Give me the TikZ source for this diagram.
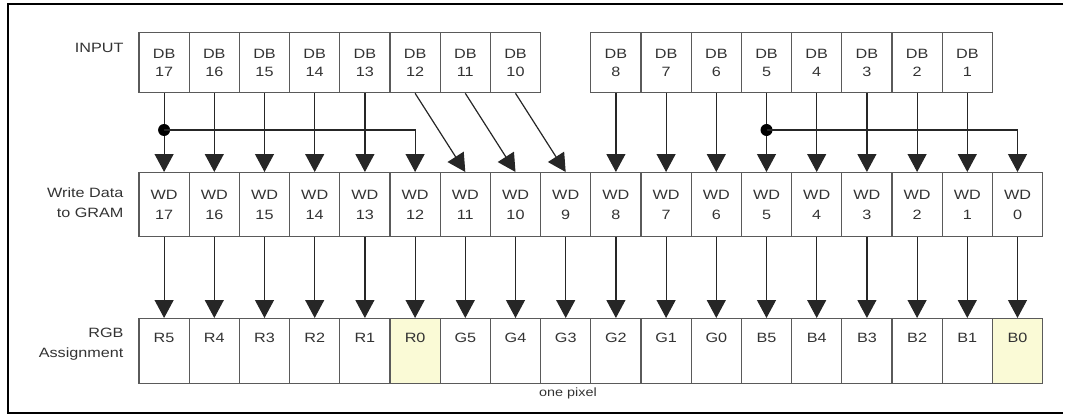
\documentclass[tikz,border=0pt]{standalone}
\usepackage{fontspec}
\setmainfont{Liberation Sans}[FakeStretch=1.2]
\usetikzlibrary{arrows.meta}
\definecolor{boxgray}{HTML}{5A5A5A}
\definecolor{txtgray}{HTML}{333333}
\definecolor{pxfill}{HTML}{FAFAD6}
\tikzset{
  cell/.style={draw=boxgray, line width=1.3pt, minimum width=50.2pt, inner sep=0pt,
    anchor=north, align=center, text=txtgray, font=\fontsize{13.5}{19}\selectfont},
  inbox/.style={cell, minimum height=60pt, font=\fontsize{13.5}{18}\selectfont},
  wdbox/.style={cell, minimum height=64pt, font=\fontsize{13.5}{20}\selectfont},
  pxbox/.style={cell, minimum height=65pt, text height=10pt, text depth=28pt},
  bit/.style={draw=black!85, line width=1.2pt, -{Triangle[width=19pt,length=18pt]}},
  tag/.style={anchor=east, align=right, text=txtgray, font=\fontsize{13.5}{20}\selectfont}
}
\begin{document}
\begin{tikzpicture}[x=1pt,y=-1pt]
\useasboundingbox (0,0) rectangle (1067,417);
\draw[line width=2.5pt] (1063,4) -- (8,4) -- (8,413) -- (1063,413);

\node[tag] (in) at (127,48) {INPUT};
\node[tag] (wr) at (127,203) {Write Data\\to GRAM};
\node[tag] (as) at (127,344) {RGB\\Assignment};

\foreach \n in {17,16,15,14,13,12,11,10,8,7,6,5,4,3,2,1}
  \node[inbox] (db\n) at ({139+50.2*(17.5-\n)},32) {DB\\\n};
\foreach \n in {17,16,...,0}
  \node[wdbox] (wd\n) at ({139+50.2*(17.5-\n)},172) {WD\\\n};
\foreach \n/\t/\f in {17/R5/white,16/R4/white,15/R3/white,14/R2/white,13/R1/white,12/R0/pxfill,
    11/G5/white,10/G4/white,9/G3/white,8/G2/white,7/G1/white,6/G0/white,
    5/B5/white,4/B4/white,3/B3/white,2/B2/white,1/B1/white,0/B0/pxfill}
  \node[pxbox, fill=\f] (px\n) at ({139+50.2*(17.5-\n)},318) {\t};
\node[text=txtgray, font=\fontsize{12}{14}\selectfont] (one) at (568,393) {one pixel};

\foreach \n in {17,16,15,14,13,8,7,6,5,4,3,2,1}
  \draw[bit] (db\n) -- (wd\n);
\draw[bit] (db12.south) -- (wd11.north);
\draw[bit] (db11.south) -- (wd10.north);
\draw[bit] (db10.south) -- (wd9.north);

\coordinate (j17) at (db17.south |- 0,130);
\coordinate (j5) at (db5.south |- 0,130);
\fill (j17) circle (6pt);
\fill (j5) circle (6pt);
\draw[bit] (j17) -| (wd12.north);
\draw[bit] (j5) -| (wd0.north);

\foreach \n in {17,16,...,0}
  \draw[bit] (wd\n) -- (px\n);
\end{tikzpicture}
\end{document}
